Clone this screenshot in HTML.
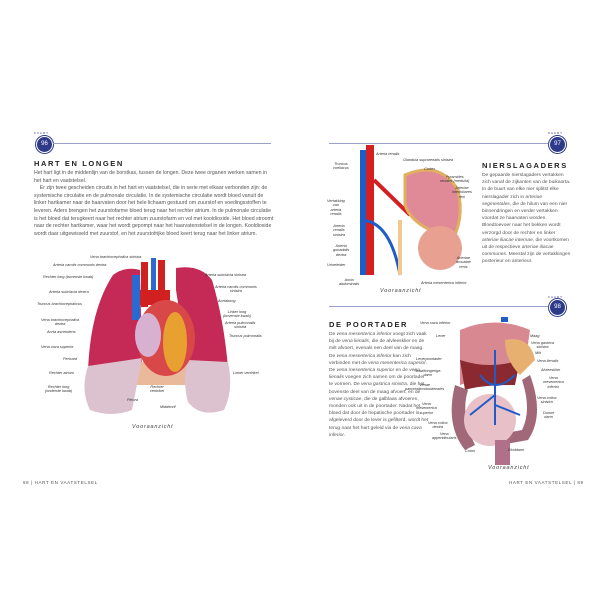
<!DOCTYPE html>
<html><head><meta charset="utf-8"><style>
body{margin:0;width:600px;height:600px;background:#fff;font-family:"Liberation Sans",sans-serif;color:#444;position:relative;overflow:hidden}
.a{position:absolute}
.p{font-size:5.2px;line-height:7.6px;color:#555}
.h{font-size:7.5px;font-weight:bold;letter-spacing:1.6px;color:#222}
.l{position:absolute;font-size:3.8px;font-style:italic;color:#333;line-height:4.4px}
.badge{position:absolute;width:15px;height:15px;border-radius:50%;background:#2d3a8a;border:1.5px solid #fff;box-shadow:0 0 0 1px #2d3a8a;color:#fff;font-size:6px;text-align:center;line-height:15px}
.k{position:absolute;font-size:3px;letter-spacing:1px;color:#2d3a8a}
.rule{position:absolute;height:1px;background:#9aa0c8}
.foot{position:absolute;font-size:4.5px;letter-spacing:0.6px;color:#555;top:480px}
.v{position:absolute;font-size:5.5px;font-style:italic;letter-spacing:0.8px;color:#444}
</style></head><body>
<div class="k" style="left:34px;top:131px">KAART</div>
<div class="badge" style="left:36px;top:136px">96</div>
<div class="rule" style="left:53px;top:143px;width:218px"></div>
<div class="a h" style="left:34px;top:159px">HART EN LONGEN</div>
<div class="a p" style="left:34px;top:170px;width:240px">Het hart ligt in de middenlijn van de borstkas, tussen de longen. Deze twee organen werken samen in het hart en vaatstelsel.<br>&nbsp;&nbsp;&nbsp;&nbsp;Er zijn twee gescheiden circuits in het hart en vaatstelsel, die in serie met elkaar verbonden zijn: de systemische circulatie en de pulmonale circulatie. In de systemische circulatie wordt bloed vanuit de linker hartkamer naar de haarvaten door het hele lichaam gestuurd om zuurstof en voedingsstoffen te leveren. Aders brengen het zuurstofarme bloed terug naar het rechter atrium. In de pulmonale circulatie is het bloed dat terugkeert naar het rechter atrium zuurstofarm en vol met kooldioxide. Het bloed stroomt naar de rechter hartkamer, waar het wordt gepompt naar het haarvatenstelsel in de longen. Kooldioxide wordt daar uitgewisseld met zuurstof, en het zuurstofrijke bloed keert terug naar het linker atrium.</div>

<svg class="a" style="left:0;top:250px" width="300" height="230">
<path d="M113 25 Q125 16 140 20 L142 112 L88 122 Q90 60 113 25Z" fill="#c42a55"/>
<path d="M176 18 Q200 14 212 30 Q224 70 228 118 L188 116 L176 40Z" fill="#c42a55"/>
<path d="M135 112 L195 112 L192 135 L135 135Z" fill="#eab89a"/>
<path d="M88 116 Q80 140 90 160 Q112 168 132 160 Q138 130 142 108Z" fill="#dcc2cf"/>
<path d="M188 110 L228 112 Q234 140 224 160 Q200 168 188 152 Q182 130 188 110Z" fill="#dcc2cf"/>
<rect x="132" y="25" width="8" height="45" fill="#2a6ad0"/>
<rect x="141" y="12" width="7" height="45" fill="#d02020"/>
<rect x="151" y="8" width="5" height="45" fill="#2a6ad0"/>
<rect x="158" y="10" width="7" height="45" fill="#d02020"/>
<rect x="140" y="40" width="30" height="15" fill="#d02020"/>
<ellipse cx="166" cy="88" rx="29" ry="38" fill="#d84848"/>
<ellipse cx="175" cy="92" rx="12" ry="30" fill="#e8a030"/>
<ellipse cx="148" cy="85" rx="13" ry="22" fill="#d8b0d0"/>
</svg>
<div class="l" style="left:90px;top:255px">Vena brachiocephalica sinistra</div>
<div class="l" style="left:53px;top:263px">Arteria carotis communis dextra</div>
<div class="l" style="left:43px;top:275px">Rechter long (bovenste kwab)</div>
<div class="l" style="left:49px;top:290px">Arteria subclavia dextra</div>
<div class="l" style="left:37px;top:302px">Truncus brachiocephalicus</div>
<div class="l" style="left:41px;top:318px;text-align:center">Vena brachiocephalica<br>dextra</div>
<div class="l" style="left:47px;top:330px">Aorta ascendens</div>
<div class="l" style="left:41px;top:345px">Vena cava superior</div>
<div class="l" style="left:63px;top:357px">Pericard</div>
<div class="l" style="left:49px;top:371px">Rechter atrium</div>
<div class="l" style="left:45px;top:385px;text-align:center">Rechter long<br>(onderste kwab)</div>
<div class="l" style="left:205px;top:273px">Arteria subclavia sinistra</div>
<div class="l" style="left:215px;top:285px;text-align:center">Arteria carotis communis<br>sinistra</div>
<div class="l" style="left:218px;top:299px">Aortaboog</div>
<div class="l" style="left:223px;top:310px;text-align:center">Linker long<br>(bovenste kwab)</div>
<div class="l" style="left:225px;top:321px;text-align:center">Arteria pulmonalis<br>sinistra</div>
<div class="l" style="left:229px;top:334px">Truncus pulmonalis</div>
<div class="l" style="left:233px;top:371px">Linker ventrikel</div>
<div class="l" style="left:150px;top:385px;text-align:center">Rechter<br>ventrikel</div>
<div class="l" style="left:127px;top:398px">Pleura</div>
<div class="l" style="left:160px;top:405px">Middenrif</div>
<div class="v" style="left:132px;top:424px">Vooraanzicht</div>
<div class="foot" style="left:23px">88 | HART EN VAATSTELSEL</div>

<div class="rule" style="left:329px;top:143px;width:219px"></div>
<div class="k" style="left:548px;top:131px">KAART</div>
<div class="badge" style="left:549px;top:136px">97</div>
<div class="a h" style="left:482px;top:161px">NIERSLAGADERS</div>
<div class="a p" style="left:482px;top:172px;width:90px;font-size:4.9px;line-height:7.2px">De gepaarde nierslagaders vertakken zich vanaf de zijkanten van de buikaorta. In de buurt van elke nier splitst elke nierslagader zich in <i>arteriae segmentales</i>, die de hilum van een nier binnendringen en verder vertakken voordat ze haarvaten worden. Bloedtoevoer naar het bekken wordt verzorgd door de rechter en linker <i>arteriae iliacae internae</i>, die voortkomen uit de respectieve <i>arteriae iliacae communes</i>. Meestal zijn de vertakkingen posterieur en anterieur.</div>
<svg class="a" style="left:300px;top:120px" width="180" height="170">
<rect x="60" y="30" width="6" height="125" fill="#1f5cc8"/>
<rect x="66" y="25" width="8" height="130" fill="#d42020"/>
<path d="M74 60 L110 95" stroke="#d42020" stroke-width="4"/>
<path d="M60 100 Q90 100 100 155" stroke="#1f5cc8" stroke-width="3" fill="none"/>
<path d="M105 55 Q140 40 158 70 Q165 100 150 125 L130 110 Q110 100 105 85Z" fill="#e08a98" stroke="#e0b060" stroke-width="3"/>
<ellipse cx="140" cy="128" rx="22" ry="22" fill="#e8a090"/>
<rect x="98" y="100" width="4" height="55" fill="#f0c890"/>
</svg>
<div class="l" style="left:376px;top:152px">Arteria renalis</div>
<div class="l" style="left:403px;top:158px">Glandula suprarenalis sinistra</div>
<div class="l" style="left:333px;top:162px;text-align:center">Truncus<br>coeliacus</div>
<div class="l" style="left:424px;top:167px">Cortex</div>
<div class="l" style="left:440px;top:175px;text-align:center">Pyramides<br>renales (medulla)</div>
<div class="l" style="left:452px;top:186px;text-align:center">Arteriae<br>interlobares<br>reni</div>
<div class="l" style="left:327px;top:199px;text-align:center">Vertakking<br>van<br>arteria<br>renalis</div>
<div class="l" style="left:333px;top:224px;text-align:center">Arteria<br>renalis<br>sinistra</div>
<div class="l" style="left:333px;top:244px;text-align:center">Arteria<br>gonadalis<br>dextra</div>
<div class="l" style="left:327px;top:263px">Urineleider</div>
<div class="l" style="left:456px;top:256px;text-align:center">Arteriae<br>arcuatae<br>renis</div>
<div class="l" style="left:339px;top:278px;text-align:center">Aorta<br>abdominalis</div>
<div class="l" style="left:421px;top:281px">Arteria mesenterica inferior</div>
<div class="v" style="left:380px;top:288px">Vooraanzicht</div>

<div class="rule" style="left:329px;top:306px;width:219px"></div>
<div class="k" style="left:548px;top:295px">KAART</div>
<div class="badge" style="left:549px;top:299px">98</div>
<div class="a h" style="left:329px;top:320px">DE POORTADER</div>
<div class="a p" style="left:329px;top:331px;width:100px;font-size:4.9px;line-height:7.2px">De <i>vena mesenterica inferior</i> voegt zich vaak bij de <i>vena lienalis</i>, die de alvleesklier en de milt afvoert, evenals een deel van de maag. De <i>vena mesenterica inferior</i> kan zich verbinden met de <i>vena mesenterica superior</i>. De <i>vena mesenterica superior</i> en de <i>vena lienalis</i> voegen zich samen om de poortader te vormen. De <i>vena gastrica sinistra</i>, die het bovenste deel van de maag afvoert, en de <i>venae cysticae</i>, die de galblaas afvoeren, monden ook uit in de poortader. Nadat het bloed dat door de hepatische poortader is afgeleverd door de lever is gefilterd, wordt het terug naar het hart geleid via de <i>vena cava inferior</i>.</div>
<svg class="a" style="left:440px;top:315px" width="110" height="160">
<path d="M20 15 Q55 0 90 15 L85 50 Q50 60 20 70Z" fill="#d88890"/>
<path d="M20 45 Q50 55 80 45 L75 70 Q40 70 25 75Z" fill="#8a2a30"/>
<path d="M65 25 Q90 20 95 45 L80 60 Q65 45 65 25Z" fill="#e8b070"/>
<path d="M15 70 Q5 110 25 135 L35 130 Q20 100 28 75Z" fill="#a06878"/>
<path d="M90 60 Q105 100 88 125 L60 130 L55 120 L82 115 Q92 95 82 65Z" fill="#a06878"/>
<ellipse cx="50" cy="105" rx="26" ry="26" fill="#e8c0c8"/>
<path d="M55 35 L55 110 M40 60 Q55 80 75 60 M55 80 L30 100 M55 90 L80 100" stroke="#1f5cc8" stroke-width="2" fill="none"/>
<rect x="55" y="125" width="15" height="25" fill="#b0708a"/>
<rect x="61" y="2" width="7" height="5" fill="#1f5cc8"/>
</svg>
<div class="l" style="left:420px;top:321px">Vena cava inferior</div>
<div class="l" style="left:436px;top:334px">Lever</div>
<div class="l" style="left:530px;top:334px">Maag</div>
<div class="l" style="left:531px;top:341px;text-align:center">Vena gastrica<br>sinistra</div>
<div class="l" style="left:535px;top:351px">Milt</div>
<div class="l" style="left:537px;top:359px">Vena lienalis</div>
<div class="l" style="left:416px;top:357px">Leverpoortader</div>
<div class="l" style="left:541px;top:368px">Alvleesklier</div>
<div class="l" style="left:414px;top:369px;text-align:center">Twaalfvingerige-<br>darm</div>
<div class="l" style="left:543px;top:376px;text-align:center">Vena<br>mesenterica<br>inferior</div>
<div class="l" style="left:405px;top:383px;text-align:center">Venae<br>pancreaticoduodenales</div>
<div class="l" style="left:537px;top:396px;text-align:center">Vena colica<br>sinistra</div>
<div class="l" style="left:416px;top:402px;text-align:center">Vena<br>mesenterica<br>superior</div>
<div class="l" style="left:543px;top:411px;text-align:center">Dunne<br>darm</div>
<div class="l" style="left:428px;top:421px;text-align:center">Vena colica<br>dextra</div>
<div class="l" style="left:432px;top:432px;text-align:center">Vena<br>appendicularis</div>
<div class="l" style="left:465px;top:449px">Colon</div>
<div class="l" style="left:508px;top:448px">Einddarm</div>
<div class="v" style="left:488px;top:465px">Vooraanzicht</div>
<div class="foot" style="left:509px">HART EN VAATSTELSEL | 89</div>
</body></html>
